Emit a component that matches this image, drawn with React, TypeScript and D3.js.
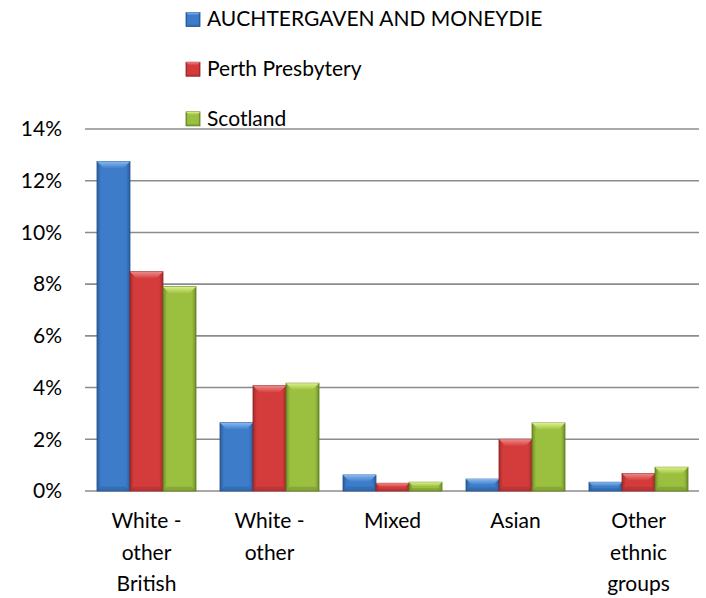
import React from "react";
import * as d3 from "d3";

const categories: string[][] = [
  ["White -", "other", "British"],
  ["White -", "other"],
  ["Mixed"],
  ["Asian"],
  ["Other", "ethnic", "groups"],
];
const seriesNames = ["AUCHTERGAVEN AND MONEYDIE", "Perth Presbytery", "Scotland"];
const auchtergaven = [0.1274, 0.0264, 0.0062, 0.0046, 0.0034];
const perth = [0.0848, 0.0407, 0.003, 0.02, 0.0068];
const scotland = [0.079, 0.0417, 0.0034, 0.0263, 0.0092];
const yTicks = [0, 0.02, 0.04, 0.06, 0.08, 0.1, 0.12, 0.14];

const seriesValues = [auchtergaven, perth, scotland];
const palettes = [
  { main: "#3d7cc9", dark: "#2a5d9e", light: "#86b8f2", edge: "#25528c" },
  { main: "#d43c3c", dark: "#a82b2b", light: "#f08a8a", edge: "#8f2424" },
  { main: "#9bbf3e", dark: "#6f8f2a", light: "#daf288", edge: "#5e7a22" },
];

const FONT = "Lato, 'Open Sans', sans-serif";
const FS = 21;

function BevelBar({ x, y, w, h, i, maxB }: { x: number; y: number; w: number; h: number; i: number; maxB: number }) {
  const p = palettes[i];
  const b = Math.max(0, Math.min(maxB, h / 2, w / 2));
  return (
    <g>
      <rect x={x} y={y} width={w} height={h} fill={`url(#grad${i})`} stroke={p.edge} strokeWidth={0.8} />
      <polygon
        points={`${x},${y} ${x + w},${y} ${x + w - b},${y + b} ${x + b},${y + b}`}
        fill={`url(#top${i})`}
      />
      <polygon
        points={`${x},${y + h} ${x + w},${y + h} ${x + w - b * 0.6},${y + h - b * 0.6} ${x + b * 0.6},${y + h - b * 0.6}`}
        fill={p.dark}
        opacity={0.5}
      />
    </g>
  );
}

export default function App() {
  const W = 706;
  const H = 598;
  const left = 85;
  const right = 700;
  const y0 = 491;
  const yTop = 129;

  const x = d3
    .scaleBand<number>()
    .domain(d3.range(categories.length))
    .range([left, right])
    .paddingInner(0.195)
    .paddingOuter(0.0975);
  const xs = d3.scaleBand<number>().domain([0, 1, 2]).range([0, x.bandwidth()]);
  const y = d3.scaleLinear().domain([0, 0.14]).range([y0, yTop]);

  return (
    <svg width={W} height={H} style={{ position: "absolute", left: 0, top: 0, background: "#fff" }}>
      <defs>
        {palettes.map((p, i) => (
          <React.Fragment key={i}>
            <linearGradient id={`grad${i}`} x1="0" x2="1" y1="0" y2="0">
              <stop offset="0" stopColor={p.dark} />
              <stop offset="0.12" stopColor={p.main} />
              <stop offset="0.5" stopColor={p.main} />
              <stop offset="0.88" stopColor={p.main} />
              <stop offset="1" stopColor={p.dark} />
            </linearGradient>
            <linearGradient id={`top${i}`} x1="0" x2="0" y1="0" y2="1">
              <stop offset="0" stopColor={p.light} />
              <stop offset="1" stopColor={p.main} />
            </linearGradient>
          </React.Fragment>
        ))}
      </defs>
      <rect x={0} y={0} width={W} height={H} fill="#fff" />
      {yTicks.map((t) => (
        <g key={t}>
          <line x1={left} x2={699} y1={y(t)} y2={y(t)} stroke="#8c8c8c" strokeWidth={1.6} />
          <text x={62} y={y(t)} dy="0.35em" textAnchor="end" fontFamily={FONT} fontSize={FS} fill="#000">
            {d3.format(".0%")(t)}
          </text>
        </g>
      ))}
      {categories.map((c, ci) =>
        seriesValues.map((vals, si) => {
          const bx = (x(ci) as number) + (xs(si) as number);
          const by = y(vals[ci]);
          return <BevelBar key={`${ci}-${si}`} x={bx} y={by} w={xs.bandwidth()} h={y0 - by} i={si} maxB={7} />;
        })
      )}
      {categories.map((lines, ci) => (
        <text key={ci} textAnchor="middle" fontFamily={FONT} fontSize={FS} fill="#000">
          {lines.map((l, li) => (
            <tspan key={li} x={(x(ci) as number) + x.bandwidth() / 2} y={528 + li * 31.5}>
              {l}
            </tspan>
          ))}
        </text>
      ))}
      {seriesNames.map((name, i) => (
        <g key={name}>
          <BevelBar x={186} y={12.5 + i * 49.7} w={14} h={14} i={i} maxB={3} />
          <text x={207} y={26 + i * 50} fontFamily={FONT} fontSize={FS} fill="#000">
            {name}
          </text>
        </g>
      ))}
    </svg>
  );
}
